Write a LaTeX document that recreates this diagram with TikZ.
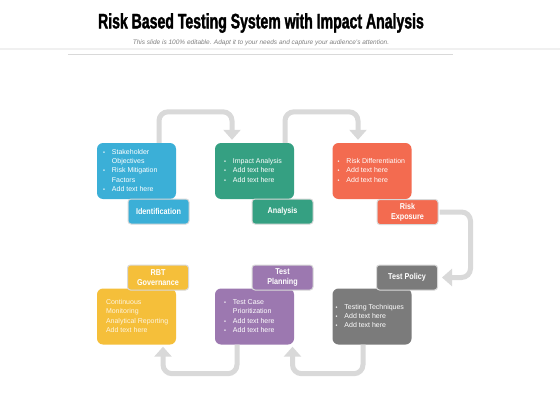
\documentclass[tikz,border=0pt]{standalone}
\usepackage{fontspec}
\setmainfont{Liberation Sans}
\newfontfamily\titlefont[FakeStretch=0.67,FakeBold=1.5]{Liberation Sans}
\newfontfamily\labfont[FakeStretch=0.85]{Liberation Sans}
\usetikzlibrary{arrows.meta}
\definecolor{idblue}{HTML}{3BAFD7}
\definecolor{angreen}{HTML}{35A082}
\definecolor{rered}{HTML}{F36B50}
\definecolor{gvyellow}{HTML}{F5BF3A}
\definecolor{plpurple}{HTML}{9C78B0}
\definecolor{tpgray}{HTML}{7B7B7B}
\definecolor{arrowgray}{HTML}{D9D9D9}
\newcommand{\bul}{\scalebox{0.8}{•}}
\tikzset{
  card/.style={rounded corners=6pt, minimum width=79pt, minimum height=56pt, inner sep=0pt},
  tag/.style={draw=gray!30, line width=1pt, rounded corners=3pt, minimum width=61pt, minimum height=25pt, inner sep=1pt, text=white, font=\labfont\bfseries\fontsize{8.5}{10}\selectfont, align=center},
  note/.style={anchor=west, text=white, inner sep=0pt, font=\fontsize{7}{9.3}\selectfont},
  flow/.style={draw=arrowgray, line width=5pt, rounded corners=9pt, -{Triangle[width=17pt,length=10pt]}},
}
\begin{document}
\begin{tikzpicture}[x=1pt,y=-1pt]
\fill[white] (0,0) rectangle (560,420);
\useasboundingbox (0,0) rectangle (560,420);
% heading
\node[font=\titlefont\bfseries\fontsize{21}{24}\selectfont] (title) at (261,23) {Risk Based Testing System with Impact Analysis};
\node[font=\itshape\fontsize{6.5}{7.5}\selectfont, text=gray] (sub) at (261,43) {This slide is 100\% editable. Adapt it to your needs and capture your audience's attention.};
\draw[gray!12, line width=1.5pt] (0,49) -- (560,49);
\draw[gray!30, line width=0.6pt] (68,54) -- (453,54);
% cards
\node[card, fill=idblue] (idbox) at (136.5,171) {};
\node[card, fill=angreen] (anbox) at (254.5,171) {};
\node[card, fill=rered] (rebox) at (372,171) {};
\node[card, fill=gvyellow] (gvbox) at (136.5,316.5) {};
\node[card, fill=plpurple] (plbox) at (254.5,316.5) {};
\node[card, fill=tpgray] (tpbox) at (372,316.5) {};
% card texts
\node[note] (idtxt) at ([xshift=6]idbox.west) {\begin{tabular}{@{}l@{\hspace{7pt}}l@{}}\bul & Stakeholder\\ & Objectives\\ \bul & Risk Mitigation\\ & Factors\\ \bul & Add text here\end{tabular}};
\node[note] (antxt) at ([xshift=9]anbox.west) {\begin{tabular}{@{}l@{\hspace{7pt}}l@{}}\bul & Impact Analysis\\ \bul & Add text here\\ \bul & Add text here\end{tabular}};
\node[note] (retxt) at ([xshift=5]rebox.west) {\begin{tabular}{@{}l@{\hspace{7pt}}l@{}}\bul & Risk Differentiation\\ \bul & Add text here\\ \bul & Add text here\end{tabular}};
\node[note, text=white!85!gvyellow] (gvtxt) at ([xshift=9]gvbox.west) {\begin{tabular}{@{}l@{}}Continuous\\ Monitoring\\ Analytical Reporting\\ Add text here\end{tabular}};
\node[note] (pltxt) at ([xshift=9]plbox.west) {\begin{tabular}{@{}l@{\hspace{7pt}}l@{}}\bul & Test Case\\ & Prioritization\\ \bul & Add text here\\ \bul & Add text here\end{tabular}};
\node[note] (tptxt) at ([xshift=3]tpbox.west) {\begin{tabular}{@{}l@{\hspace{7pt}}l@{}}\bul & Testing Techniques\\ \bul & Add text here\\ \bul & Add text here\end{tabular}};
% arrows
\draw[flow] ([xshift=22.5]idbox.north) -- ++(0,-31) -| ([xshift=-22.5,yshift=3]anbox.north);
\draw[flow] ([xshift=30.5]anbox.north) -- ++(0,-31) -| ([xshift=-14,yshift=3]rebox.north);
\draw[flow] ([xshift=-9]tpbox.south) -- ++(0,29) -| ([xshift=38,yshift=-2]plbox.south);
\draw[flow] ([xshift=-17.5]plbox.south) -- ++(0,29) -| ([xshift=26.5,yshift=-2]gvbox.south);
% tags
\node[tag, fill=idblue] (idlab) at (158.5,211.5) {Identification};
\node[tag, fill=angreen] (anlab) at (282.5,211.5) {Analysis};
\node[tag, fill=rered] (relab) at (407.5,212) {Risk\\Exposure};
\node[tag, fill=gvyellow] (gvlab) at (158,277.5) {RBT\\Governance};
\node[tag, fill=plpurple] (pllab) at (282.5,277.5) {Test\\Planning};
\node[tag, fill=tpgray] (tplab) at (407,277.5) {Test Policy};
\draw[flow] ([xshift=1]relab.east) -- ([xshift=32]relab.east) |- ([xshift=4]tplab.east);
\end{tikzpicture}
\end{document}
